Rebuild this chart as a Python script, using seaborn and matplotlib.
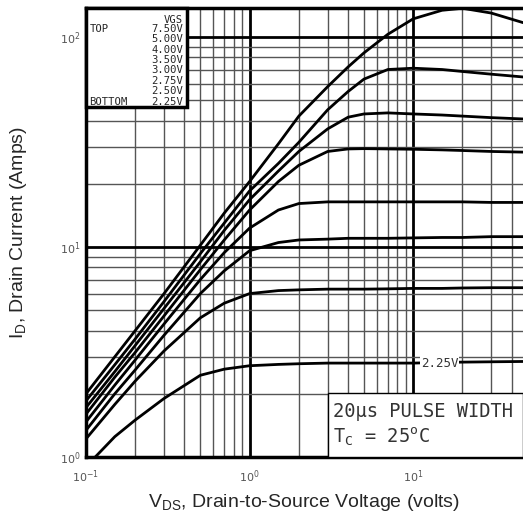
import seaborn as sns
import matplotlib.pyplot as plt
import matplotlib.patches as patches
import numpy as np
import pandas as pd

# Typical output characteristics (log-log)
vds = [0.1, 0.15, 0.2, 0.3, 0.5, 0.7, 1, 1.5, 2, 3, 4, 5, 7, 10, 15, 20, 30, 47]

id_750 = [2.0, 3.0, 4.0, 6.0, 10.2, 14.5, 20.5, 31, 42, 58, 72, 84, 103, 122, 134, 137, 130, 117]
id_500 = [1.85, 2.75, 3.65, 5.5, 9.3, 13, 18.5, 25, 31.5, 45, 55, 63, 70, 71, 70, 68.5, 66.5, 64.5]
id_400 = [1.72, 2.55, 3.4, 5.1, 8.5, 12, 16.8, 23, 28.5, 36.5, 41.5, 43, 43.5, 43, 42.5, 42, 41.3, 40.7]
id_350 = [1.6, 2.4, 3.15, 4.7, 7.8, 10.8, 15, 20.5, 24.5, 28.5, 29.3, 29.4, 29.3, 29.2, 29, 28.8, 28.5, 28.3]
id_300 = [1.47, 2.2, 2.9, 4.3, 7.0, 9.4, 12.3, 15, 16.1, 16.4, 16.4, 16.4, 16.4, 16.4, 16.4, 16.4, 16.3, 16.3]
id_275 = [1.34, 2.0, 2.6, 3.8, 6.0, 7.7, 9.6, 10.5, 10.8, 10.9, 11, 11, 11, 11.05, 11.1, 11.1, 11.2, 11.2]
id_250 = [1.22, 1.78, 2.3, 3.2, 4.6, 5.4, 6.0, 6.2, 6.25, 6.3, 6.3, 6.3, 6.32, 6.35, 6.35, 6.38, 6.4, 6.4]
id_225 = [0.9, 1.25, 1.5, 1.9, 2.45, 2.62, 2.72, 2.76, 2.78, 2.8, 2.8, 2.8, 2.8, 2.8, 2.82, 2.83, 2.84, 2.85]

vgs_labels = ['7.50V', '5.00V', '4.00V', '3.50V', '3.00V', '2.75V', '2.50V', '2.25V']
curves = [id_750, id_500, id_400, id_350, id_300, id_275, id_250, id_225]

df = pd.DataFrame({
    'VDS': vds * len(curves),
    'ID': [v for c in curves for v in c],
    'VGS': [lab for lab in vgs_labels for _ in vds],
})

sns.set_style("white")
plt.rcParams['font.family'] = ['Liberation Sans', 'DejaVu Sans']

fig = plt.figure(figsize=(5.23, 5.20), dpi=100)
ax = fig.add_axes([86 / 523, 1 - 457 / 520, 1 - 86 / 523, (457 - 8) / 520])

sns.lineplot(data=df, x='VDS', y='ID', hue='VGS', palette=['black'] * len(curves),
             estimator=None, legend=False, linewidth=2.0, ax=ax, zorder=3)

ax.set_xscale('log')
ax.set_yscale('log')
ax.set_xlim(0.1, 46.9)
ax.set_ylim(1, 137.4)

# grid: grey minor lines, black decade lines
ax.grid(which='minor', color='#555555', linewidth=1.0)
ax.grid(which='major', color='black', linewidth=2.0)
ax.set_axisbelow(True)

for side in ['left', 'bottom', 'top']:
    ax.spines[side].set_linewidth(2.5)
    ax.spines[side].set_color('black')
ax.spines['right'].set_visible(False)

ax.set_xticks([0.1, 1, 10])
ax.set_xticklabels([r'$10^{-1}$', r'$10^{0}$', r'$10^{1}$'])
ax.set_yticks([1, 10, 100])
ax.set_yticklabels([r'$10^{0}$', r'$10^{1}$', r'$10^{2}$'])
ax.tick_params(which='both', direction='in', labelsize=8, labelcolor='#555555', length=3)
ax.tick_params(axis='x', pad=8)
ax.tick_params(axis='y', pad=4)
ax.tick_params(which='minor', labelbottom=False, labelleft=False)

ax.set_xlabel(r'V$_\mathregular{DS}$, Drain-to-Source Voltage (volts)', fontsize=14, labelpad=5)
ax.set_ylabel(r'I$_\mathregular{D}$, Drain Current (Amps)', fontsize=14, labelpad=22)

# VGS legend box
ax.add_patch(patches.Rectangle((0, 0.7795), 0.231, 0.2205, transform=ax.transAxes,
                               facecolor='white', edgecolor='black', linewidth=2.5, zorder=5,
                               clip_on=False))
mono = 'DejaVu Sans Mono'
fs = 7.6
ax.text(0.222, 0.984, 'VGS', transform=ax.transAxes, ha='right', va='top',
        fontsize=fs, family=mono, zorder=6)
row_top = 0.965
row_step = 0.0232
for i, lab in enumerate(vgs_labels):
    y = row_top - i * row_step
    ax.text(0.222, y, lab, transform=ax.transAxes, ha='right', va='top',
            fontsize=fs, family=mono, zorder=6)
ax.text(0.008, row_top, 'TOP', transform=ax.transAxes, ha='left', va='top',
        fontsize=fs, family=mono, zorder=6)
ax.text(0.008, row_top - 7 * row_step, 'BOTTOM', transform=ax.transAxes, ha='left', va='top',
        fontsize=fs, family=mono, zorder=6)

# pulse width / temperature box
ax.add_patch(patches.Rectangle((0.554, 0), 0.446, 0.1425, transform=ax.transAxes,
                               facecolor='white', edgecolor='black', linewidth=1.0, zorder=5))
ax.text(0.565, 0.102, '20µs PULSE WIDTH', transform=ax.transAxes, ha='left', va='center',
        fontsize=13.5, family=mono, color='#333333', zorder=6)
ax.text(0.565, 0.045, r'T$_\mathregular{C}$ = 25$^\mathregular{o}$C', transform=ax.transAxes,
        ha='left', va='center', fontsize=13.5, family=mono, color='#333333', zorder=6)

# label on bottom curve
ax.text(14.5, 2.8, '2.25V', ha='center', va='center', fontsize=9, family=mono,
        color='#333333', zorder=6,
        bbox=dict(facecolor='white', edgecolor='none', pad=0.5))

fig.savefig('out.png', dpi=100)
